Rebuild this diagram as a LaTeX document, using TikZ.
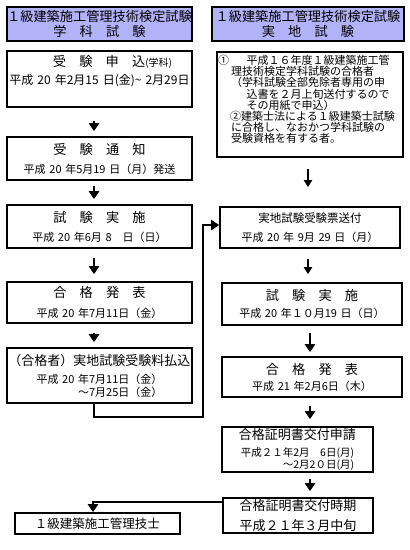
\documentclass[tikz,border=0pt]{standalone}
\usepackage{fontspec}
\setmainfont{Noto Sans CJK JP}
\usepackage{xcolor}
\usetikzlibrary{arrows.meta,positioning,calc}
\definecolor{titleblue}{RGB}{178,178,248}
\newcommand{\headfont}{\fontsize{13.2}{13.2}\selectfont}

\begin{document}
\begin{tikzpicture}[x = 1pt, y = -1pt,
  titlebox/.style = {draw, fill = titleblue, line width = 1.2pt, inner sep = 0pt, align = center, font = \fontsize{13.2}{15}\selectfont},
  stepbox/.style = {draw, line width = 1.6pt, inner sep = 0pt, align = center, text width = #1},
  flow/.style = {-{Triangle[width = 10pt, length = 8pt]}, line width = 2.6pt},
  thinflow/.style = {-{Triangle[width = 8pt, length = 7pt]}, line width = 1.8pt}]
  \useasboundingbox (0,0) rectangle (410,550);
  % titles
  \node[titlebox, minimum width = 185, minimum height = 34] (gakka) at (99.5,24) {１級建築施工管理技術検定試験\\学　科　試　験};
  \node[titlebox, minimum width = 192, minimum height = 34] (jitchi) at (308,24) {１級建築施工管理技術検定試験\\実　地　試　験};
  % left column
  \node[stepbox = 185, minimum height = 56, font = \fontsize{12}{18}\selectfont] (moshikomi) at (99.5,79) {\hspace*{26pt}{\headfont 受　験　申　込}{\fontsize{10}{10}\selectfont (学科)}\\平成 20 年2月15 日(金)\textasciitilde{} 2月29日\\\mbox{}};
  \node[stepbox = 185, minimum height = 43, font = \fontsize{11}{19}\selectfont] (tsuchi) at (99.5,158.5) {{\headfont 受　験　通　知}\\平成 20 年5月19 日（月）発送};
  \node[stepbox = 185, minimum height = 43, font = \fontsize{11}{19}\selectfont] (shiken) at (99.5,226.5) {{\headfont 試　験　実　施}\hspace*{18pt}\\平成 20 年6月 8　日（日）\hspace*{18pt}};
  \node[stepbox = 185, minimum height = 41, font = \fontsize{11}{20}\selectfont] (happyo) at (99.5,302.5) {{\headfont 合　格　発　表}\hspace*{10pt}\\平成 20 年7月11日（金）\hspace*{14pt}};
  \node[stepbox = 185, minimum height = 55, font = \fontsize{11}{13}\selectfont] (haraikomi) at (99.5,375.5) {{\fontsize{13}{13}\selectfont （合格者）実地試験受験料払込}\\[5pt]平成 20 年7月11日（金）\hspace*{14pt}\\\hphantom{平成 20 }～7月25日（金）\hspace*{14pt}};
  \node[stepbox = 165, minimum height = 21, font = \fontsize{12.5}{14}\selectfont] (gishi) at (97.5,523.5) {１級建築施工管理技士};
  % right column
  \node[draw, line width = 1.6pt, inner xsep = 1pt, inner ysep = 0pt, text width = 184, minimum height = 105, align = left, font = \fontsize{11}{11.1}\selectfont] (shikaku) at (310,104.5) {①\hspace{1.6em}平成１６年度１級建築施工管\\\hspace*{1.2em}理技術検定学科試験の合格者\\\hspace*{1.2em}（学科試験全部免除者専用の申\\\hspace*{2.6em}込書を２月上旬送付するので\\\hspace*{2.6em}その用紙で申込）\\\hspace*{1.1em}②建築士法による１級建築士試験\\\hspace*{1.2em}に合格し、なおかつ学科試験の\\\hspace*{1.2em}受験資格を有する者。\\\mbox{}};
  \node[stepbox = 180, minimum height = 41, font = \fontsize{11}{19}\selectfont] (hyo) at (310,227.5) {{\fontsize{11.5}{11.5}\selectfont 実地試験受験票送付}\\平成 20 年 9月 29 日（月）};
  \node[stepbox = 180, minimum height = 42, font = \fontsize{11}{17}\selectfont] (jisshi) at (312,304) {{\headfont 試　験　実　施}\\平成 20 年１０月19 日（日）};
  \node[stepbox = 180, minimum height = 40, font = \fontsize{11}{16}\selectfont] (goukaku) at (312,377) {{\headfont 合　格　発　表}\\平成 21 年2月6日（木）};
  \node[stepbox = 151, minimum height = 45, font = \fontsize{10.5}{10}\selectfont] (shinsei) at (297.5,449.5) {{\fontsize{13}{13}\selectfont 合格証明書交付申請}\\[7pt]平成２１年2月　6日(月)\\\hphantom{平成２１}～2月2０日(月)};
  \node[stepbox = 150, minimum height = 35, font = \fontsize{13}{20}\selectfont] (jiki) at (298,515.5) {合格証明書交付時期\\平成２１年３月中旬};
  % arrows
  \draw[flow, shorten <= 13pt, shorten >= 5pt] ([xshift = -5.5pt]moshikomi.south) -- ([xshift = -5.5pt]tsuchi.north);
  \draw[flow, shorten <= 5pt, shorten >= 5pt] ([xshift = -5.5pt]tsuchi.south) -- ([xshift = -5.5pt]shiken.north);
  \draw[flow, shorten <= 9pt, shorten >= 7pt] ([xshift = -5.5pt]shiken.south) -- ([xshift = -5.5pt]happyo.north);
  \draw[flow, shorten <= 9pt, shorten >= 5pt] ([xshift = -5.5pt]happyo.south) -- ([xshift = -5.5pt]haraikomi.north);
  \draw[thinflow, shorten <= 11pt, shorten >= 19pt] ([xshift = -2pt]shikaku.south) -- ([xshift = -2pt]hyo.north);
  \draw[thinflow, shorten <= 10pt, shorten >= 8pt] ([xshift = -2pt]hyo.south) -- ([xshift = -4pt]jisshi.north);
  \draw[flow, shorten <= 7pt, shorten >= 4pt] ([xshift = -2pt]jisshi.south) -- ([xshift = -2pt]goukaku.north);
  \draw[flow, shorten <= 8pt, shorten >= 7pt] ([xshift = -2pt]goukaku.south) -- ([xshift = 12.5pt]shinsei.north);
  \draw[flow, shorten <= 6pt, shorten >= 6pt] ([xshift = 12.5pt]shinsei.south) -- ([xshift = 12pt]jiki.north);
  \coordinate (bend) at (203,417);
  \draw[flow] ([xshift = -5.5pt]haraikomi.south) |- (bend) |- ([yshift = 2.5pt]hyo.west);
  \draw[flow] ([yshift = 13.5pt]jiki.west) -| ([xshift = -4.5pt]gishi.north);
\end{tikzpicture}
\end{document}
